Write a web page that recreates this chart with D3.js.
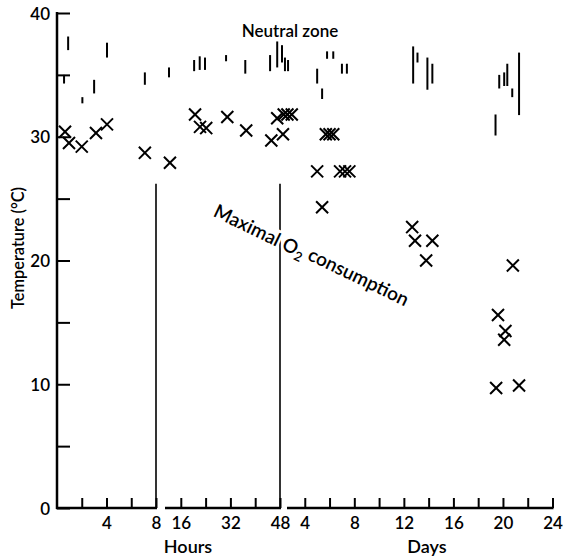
<!DOCTYPE html>
<html><head><meta charset="utf-8">
<script src="https://cdn.jsdelivr.net/npm/d3@7"></script>
<style>
html,body{margin:0;padding:0;background:#fff;}
svg text{font-family:Lato,"Open Sans",sans-serif;fill:#000;font-weight:600;}
</style></head>
<body>
<svg id="c" width="563" height="559"></svg>
<script>
// ---- data ----
const yTicks = [0, 5, 10, 15, 20, 25, 30, 35, 40];
const yLabels = [0, 10, 20, 30, 40];
const hourTicks1 = [2, 4, 6, 8];
const hourLabels1 = [4, 8];
const hourTicks2 = [16, 24, 32, 40, 48];
const hourLabels2 = [16, 32, 48];
const dayTicks = [4, 6, 8, 10, 12, 14, 16, 18, 20, 22, 24];
const dayLabels = [4, 8, 12, 16, 20, 24];

// body temperature (crosses)
const hoursCrossTime = [0.65, 0.97, 2.0, 3.15, 4.04, 7.1, 12.5, 20.6, 22.2, 24.2, 31.0, 37.1, 45.2, 47.1];
const hoursCrossTemp = [30.4, 29.5, 29.2, 30.3, 31.0, 28.7, 27.9, 31.8, 30.8, 30.7, 31.6, 30.5, 29.7, 31.5];
const daysCrossTime = [2.24, 2.3, 2.6, 2.95, 5.0, 5.4, 5.7, 6.0, 6.3, 6.85, 7.25, 7.6, 12.67, 12.9, 14.3, 13.8, 19.6, 20.2, 20.1, 20.8, 19.45, 21.3];
const daysCrossTemp = [30.2, 31.8, 31.8, 31.8, 27.2, 24.3, 30.2, 30.2, 30.2, 27.2, 27.2, 27.2, 22.7, 21.6, 21.6, 20.0, 15.6, 14.3, 13.6, 19.6, 9.7, 9.9];

// neutral zone ranges (vertical bars)
const nzHoursTime = [0.57, 0.9, 2.05, 3.0, 4.04, 7.1, 12.2, 20.3, 22.1, 23.8, 30.6, 36.8, 44.8, 47.1];
const nzHoursLow  = [34.3, 37.0, 32.7, 33.5, 36.4, 34.2, 34.8, 35.3, 35.4, 35.4, 36.1, 35.1, 35.3, 35.6];
const nzHoursHigh = [35.0, 38.1, 33.2, 34.6, 37.6, 35.2, 35.6, 36.2, 36.5, 36.4, 36.6, 36.2, 36.6, 37.7];
const nzDaysTime = [2.16, 2.4, 2.65, 5.0, 5.4, 5.8, 6.3, 7.0, 7.4, 12.75, 13.1, 13.9, 14.3, 19.4, 19.7, 20.1, 20.35, 20.75, 21.3];
const nzDaysLow  = [36.0, 35.3, 35.3, 34.3, 33.05, 36.3, 36.3, 35.1, 35.1, 34.3, 36.0, 33.8, 34.3, 30.1, 33.9, 34.1, 34.1, 33.2, 31.75];
const nzDaysHigh = [37.4, 36.4, 36.2, 35.5, 33.9, 36.9, 36.9, 35.9, 35.9, 37.3, 36.8, 36.4, 35.9, 31.8, 35.0, 35.2, 35.9, 33.9, 36.8];

// separators (hours) and their top temperature
const separatorHours = [8, 48];
const separatorTop = 26.2;

// ---- scales ----
const svg = d3.select("#c");
const x = d3.scaleLinear().domain([0, 8, 48, 576]).range([57, 156, 280, 552.5]);
const xH1 = d3.scaleLinear().domain([0, 8]).range([57, 156]);
const xH2 = d3.scaleLinear().domain([8, 48]).range([156, 280]);
const xD = d3.scaleLinear().domain([2, 24]).range([280, 552.5]);
const y = d3.scaleLinear().domain([0, 40]).range([508, 13]);

const font = "17px";

// y axis
const yAxis = d3.axisLeft(y).tickValues(yTicks).tickSize(-13).tickSizeOuter(0).tickPadding(7)
  .tickFormat(d => yLabels.includes(d) ? d : "");
const gy = svg.append("g").attr("transform", "translate(57,0)").call(yAxis);
gy.select(".domain").remove();
gy.selectAll(".tick line").attr("stroke", "#000").attr("stroke-width", 2);
gy.selectAll(".tick text").style("font-size", font).attr("dy", "0.36em");
svg.append("line").attr("x1", 57).attr("x2", 57).attr("y1", y(40) - 1).attr("y2", y(0) + 1)
  .attr("stroke", "#000").attr("stroke-width", 2.5);

// x axes (three segments)
function xSeg(scale, ticks, labels, x0, x1) {
  const ax = d3.axisBottom(scale).tickValues(ticks).tickSize(-10).tickSizeOuter(0).tickPadding(9)
    .tickFormat(d => labels.includes(d) ? d : "");
  const g = svg.append("g").attr("transform", `translate(0,${y(0)})`).call(ax);
  g.select(".domain").remove();
  g.selectAll(".tick line").attr("stroke", "#000").attr("stroke-width", 2);
  g.selectAll(".tick text").style("font-size", font);
  svg.append("line").attr("x1", x0).attr("x2", x1).attr("y1", y(0)).attr("y2", y(0))
    .attr("stroke", "#000").attr("stroke-width", 2.5);
}
xSeg(xH1, hourTicks1, hourLabels1, xH1(0) - 1, xH1(8) + 1);
xSeg(xH2, hourTicks2, hourLabels2, xH2(8) + 9, xH2(48) + 1);
xSeg(xD, dayTicks, dayLabels, xD(2) + 7, xD(24) + 1);

// separators
svg.selectAll("line.sep").data(separatorHours).enter().append("line")
  .attr("x1", d => x(d)).attr("x2", d => x(d))
  .attr("y1", y(0)).attr("y2", y(separatorTop))
  .attr("stroke", "#000").attr("stroke-width", 1.6);

// axis titles
svg.append("text").attr("transform", `translate(24,${248}) rotate(-90)`)
  .attr("text-anchor", "middle").style("font-size", "16.5px")
  .attr("textLength", 122).attr("lengthAdjust", "spacingAndGlyphs").text("Temperature (°C)");
svg.append("text").attr("x", 188).attr("y", 553).attr("text-anchor", "middle")
  .style("font-size", "18px").text("Hours");
svg.append("text").attr("x", 427).attr("y", 553).attr("text-anchor", "middle")
  .style("font-size", "18px").text("Days");

// neutral zone bars
const nz = nzHoursTime.map((t, i) => ({ t, lo: nzHoursLow[i], hi: nzHoursHigh[i] }))
  .concat(nzDaysTime.map((d, i) => ({ t: d * 24, lo: nzDaysLow[i], hi: nzDaysHigh[i] })));
svg.selectAll("line.nz").data(nz).enter().append("line")
  .attr("x1", d => x(d.t)).attr("x2", d => x(d.t))
  .attr("y1", d => y(d.lo)).attr("y2", d => y(d.hi))
  .attr("stroke", "#000").attr("stroke-width", 2);

// crosses
const crosses = hoursCrossTime.map((t, i) => ({ t, v: hoursCrossTemp[i] }))
  .concat(daysCrossTime.map((d, i) => ({ t: d * 24, v: daysCrossTemp[i] })));
const sym = d3.symbol().type(d3.symbolTimes).size(96);
svg.selectAll("path.cross").data(crosses).enter().append("path")
  .attr("transform", d => `translate(${x(d.t)},${y(d.v)})`)
  .attr("d", sym).attr("fill", "none").attr("stroke", "#000").attr("stroke-width", 2);

// annotations
svg.append("text").attr("x", 290).attr("y", 37).attr("text-anchor", "middle")
  .style("font-size", "17px").text("Neutral zone");
const ann = svg.append("text").attr("transform", "translate(311,256) rotate(25.7)")
  .attr("text-anchor", "middle").attr("dy", "0.35em").style("font-size", "19px")
  .attr("stroke", "#fff").attr("stroke-width", 5).attr("paint-order", "stroke");
ann.append("tspan").text("Maximal O");
ann.append("tspan").attr("dy", "0.3em").style("font-size", "13px").text("2");
ann.append("tspan").attr("dy", "-0.3em").text(" consumption");
</script>
</body></html>
